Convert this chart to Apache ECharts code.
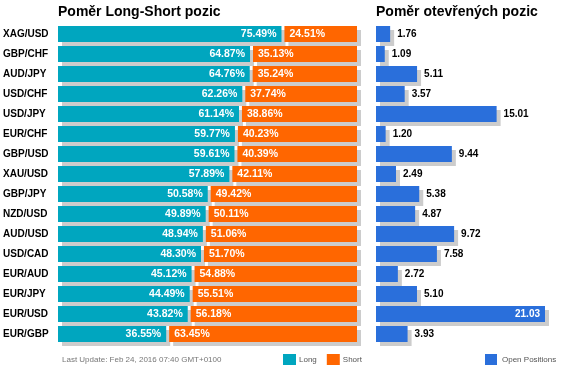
<!DOCTYPE html>
<html><head><meta charset="utf-8">
<script src="https://cdn.jsdelivr.net/npm/echarts@6/dist/echarts.min.js"></script>
<style>html,body{margin:0;padding:0;background:#fff}#c{width:567px;height:373px}</style>
</head><body><div id="c"></div>
<script>
const pairs = ['XAG/USD','GBP/CHF','AUD/JPY','USD/CHF','USD/JPY','EUR/CHF','GBP/USD','XAU/USD','GBP/JPY','NZD/USD','AUD/USD','USD/CAD','EUR/AUD','EUR/JPY','EUR/USD','EUR/GBP'];
const longPct = [75.49,64.87,64.76,62.26,61.14,59.77,59.61,57.89,50.58,49.89,48.94,48.30,45.12,44.49,43.82,36.55];
const shortPct = [24.51,35.13,35.24,37.74,38.86,40.23,40.39,42.11,49.42,50.11,51.06,51.70,54.88,55.51,56.18,63.45];
const openPos = [1.76,1.09,5.11,3.57,15.01,1.20,9.44,2.49,5.38,4.87,9.72,7.58,2.72,5.10,21.03,3.93];
const titleLeft = 'Poměr Long-Short pozic';
const titleRight = 'Poměr otevřených pozic';
const updateText = 'Last Update: Feb 24, 2016 07:40 GMT+0100';

const TEAL = '#00a6bf', ORANGE = '#ff6600', BLUE = '#2a6fdb', SHADOW = '#cccccc';
const FONT = 'Liberation Sans, Arial, sans-serif';
const GAP = 1; // visual separator between long and short segments (axis units)
const shadowStyle = {shadowColor: SHADOW, shadowBlur: 0, shadowOffsetX: 4, shadowOffsetY: 4};
const maxOpen = Math.max(...openPos);

const chart = echarts.init(document.getElementById('c'), null, {renderer: 'canvas'});
chart.setOption({
  animation: false,
  textStyle: {fontFamily: FONT},
  title: [
    {text: titleLeft, left: 58, top: 5, padding: 0, textStyle: {fontSize: 14, fontWeight: 'bold', color: '#000', fontFamily: FONT}},
    {text: titleRight, left: 376, top: 5, padding: 0, textStyle: {fontSize: 14, fontWeight: 'bold', color: '#000', fontFamily: FONT}},
    {text: updateText, left: 62, top: 356, padding: 0, textStyle: {fontSize: 8, fontWeight: 'normal', color: '#777', fontFamily: FONT}}
  ],
  legend: [
    {data: ['Long','Short'], left: 283, top: 354, padding: 0, itemWidth: 13, itemHeight: 11, itemGap: 10,
     icon: 'rect', textStyle: {fontSize: 8, color: '#555', fontFamily: FONT, padding: [0,0,0,-2]}},
    {data: ['Open Positions'], left: 485, top: 354, padding: 0, itemWidth: 12, itemHeight: 11,
     icon: 'rect', textStyle: {fontSize: 8, color: '#555', fontFamily: FONT, padding: [0,0,0,0]}}
  ],
  grid: [
    {left: 58, width: 299, top: 24, height: 320},
    {left: 376, right: 22, top: 24, height: 320}
  ],
  xAxis: [
    {gridIndex: 0, type: 'value', min: 0, max: 100 + GAP, show: false},
    {gridIndex: 1, type: 'value', min: 0, max: maxOpen, show: false}
  ],
  yAxis: [
    {gridIndex: 0, type: 'category', data: pairs, inverse: true,
     axisLine: {show: false}, axisTick: {show: false}, splitLine: {show: false},
     axisLabel: {align: 'left', margin: 55, fontSize: 10, fontWeight: 'bold', color: '#000', fontFamily: FONT}},
    {gridIndex: 1, type: 'category', data: pairs, inverse: true, show: false}
  ],
  series: [
    {name: 'Long', type: 'bar', stack: 'ls', xAxisIndex: 0, yAxisIndex: 0, barWidth: 16, data: longPct,
     itemStyle: Object.assign({color: TEAL}, shadowStyle),
     label: {show: true, position: 'insideRight', distance: 5, color: '#fff', fontSize: 10.5, fontWeight: 'bold', fontFamily: FONT,
       formatter: p => p.value.toFixed(2) + '%'}},
    {name: 'gap', type: 'bar', stack: 'ls', xAxisIndex: 0, yAxisIndex: 0, barWidth: 16,
     data: pairs.map(() => GAP), itemStyle: {color: 'rgba(0,0,0,0)'}, silent: true, label: {show: false}},
    {name: 'Short', type: 'bar', stack: 'ls', xAxisIndex: 0, yAxisIndex: 0, barWidth: 16, data: shortPct,
     itemStyle: Object.assign({color: ORANGE}, shadowStyle),
     label: {show: true, position: 'insideLeft', distance: 5, color: '#fff', fontSize: 10.5, fontWeight: 'bold', fontFamily: FONT,
       formatter: p => p.value.toFixed(2) + '%'}},
    {name: 'Open Positions', type: 'bar', xAxisIndex: 1, yAxisIndex: 1, barWidth: 16,
     data: openPos.map(v => v === maxOpen
       ? {value: v, label: {position: 'insideRight', color: '#fff', distance: 5}}
       : v),
     itemStyle: Object.assign({color: BLUE}, shadowStyle),
     label: {show: true, position: 'right', distance: 7, color: '#000', fontSize: 10, fontWeight: 'bold', fontFamily: FONT,
       formatter: p => p.value.toFixed(2)}}
  ]
});
</script></body></html>
